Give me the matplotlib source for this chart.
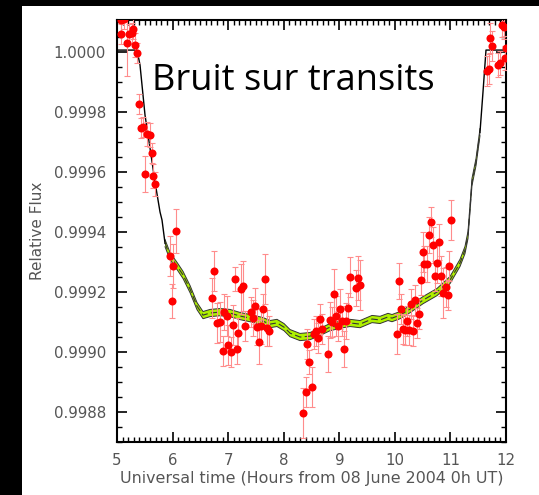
import numpy as np
import matplotlib
matplotlib.use('Agg')
import matplotlib.pyplot as plt
from matplotlib.patches import Rectangle
from matplotlib.ticker import MultipleLocator, FormatStrFormatter


# photometric points (hours UT, relative flux, 1-sigma error)
time = [5.07, 5.13, 5.07, 5.18, 5.22, 5.27, 5.29, 5.32, 5.36, 5.40,
        5.43, 5.47, 5.54, 5.59, 5.63, 5.50, 5.65, 5.68,
        6.06, 5.95, 6.01, 5.99, 6.75, 6.71, 6.80, 6.85, 6.93, 6.98,
        6.91, 7.00, 7.05, 7.16, 7.09, 7.18, 7.12, 7.23, 7.27, 7.30,
        7.41, 7.48, 7.45, 7.63, 7.66, 7.52, 7.56, 7.59, 7.70, 7.74,
        8.35, 8.40, 8.51, 8.46, 8.42, 8.55, 8.62, 8.58, 8.65, 8.69,
        8.80, 8.83, 8.87, 8.91, 8.94, 8.98, 9.01, 9.05, 9.09, 9.12,
        9.16, 9.19, 9.30, 9.34, 9.37,
        10.04, 10.07, 10.11, 10.15, 10.18, 10.22, 10.25, 10.33, 10.29, 10.36,
        10.40, 10.43, 10.47, 10.51, 10.52, 10.58, 10.65, 10.61, 10.69, 10.72,
        10.76, 10.79, 10.83, 10.87, 10.92, 10.96, 10.97, 11.01,
        11.66, 11.69, 11.71, 11.75, 11.86, 11.89, 11.93, 11.96, 11.99, 11.995]
flux = [1.000107, 1.00011, 1.00006, 1.00003, 1.00006, 1.000063, 1.000077, 1.000023, 0.999997, 0.999827,
        0.999747, 0.99975, 0.999727, 0.999723, 0.999663, 0.999593, 0.999587, 0.99956,
        0.999403, 0.99932, 0.999287, 0.99917, 0.99927, 0.99918, 0.999097, 0.9991, 0.999133, 0.99912,
        0.999003, 0.999023, 0.999, 0.99901, 0.99909, 0.999063, 0.999243, 0.99921, 0.99922, 0.999087,
        0.999133, 0.999153, 0.999113, 0.999143, 0.999243, 0.999083, 0.999033, 0.999087, 0.99908, 0.99907,
        0.998797, 0.998867, 0.998883, 0.998967, 0.999027, 0.99906, 0.999047, 0.99907, 0.99911, 0.999077,
        0.998993, 0.999107, 0.9991, 0.999193, 0.99912, 0.999087, 0.999143, 0.999103, 0.99901, 0.999103,
        0.999147, 0.99925, 0.999213, 0.999247, 0.999223,
        0.99906, 0.999237, 0.999143, 0.999077, 0.999073, 0.999103, 0.999073, 0.99907, 0.99916, 0.999173,
        0.999097, 0.999127, 0.99924, 0.999333, 0.999293, 0.999293, 0.999433, 0.99939, 0.999357, 0.999253,
        0.999297, 0.999367, 0.999253, 0.999197, 0.999217, 0.99919, 0.999287, 0.99944,
        0.999937, 0.999943, 1.000047, 1.00002, 0.999957, 0.999963, 1.00009, 1.000083, 0.99998, 1.000013]
flux_err = [0.00004, 0.000033, 0.000033, 0.00011, 0.000033, 0.000033, 0.000033, 0.00004, 0.000033, 0.000033,
            0.000033, 0.000033, 0.00004, 0.00004, 0.000033, 0.00006, 0.00004, 0.00004,
            0.000073, 0.000067, 0.000073, 0.000057, 0.000067, 0.000067, 0.000067, 0.000067, 0.00006, 0.000067,
            0.00005, 0.000067, 0.00005, 0.00005, 0.000067, 0.00005, 0.00004, 0.000083, 0.000083, 0.00005,
            0.00005, 0.00006, 0.00006, 0.00005, 0.000083, 0.00006, 0.000073, 0.00006, 0.00006, 0.00005,
            0.000083, 0.00005, 0.000067, 0.00004, 0.00005, 0.00005, 0.00005, 0.00005, 0.00005, 0.00005,
            0.00006, 0.00006, 0.00005, 0.000083, 0.000067, 0.00005, 0.000067, 0.00005, 0.00006, 0.00006,
            0.00005, 0.000067, 0.00006, 0.000073, 0.000083,
            0.000067, 0.00006, 0.00005, 0.00005, 0.00005, 0.00005, 0.00005, 0.00005, 0.00005, 0.00005,
            0.00005, 0.00005, 0.00005, 0.000067, 0.00006, 0.00006, 0.00005, 0.00006, 0.00006, 0.00005,
            0.000067, 0.00006, 0.000067, 0.000083, 0.000067, 0.00005, 0.00005, 0.000067,
            0.00005, 0.00005, 0.00005, 0.00005, 0.00004, 0.00004, 0.00004, 0.00004, 0.00004, 0.00004]

# fitted transit model and its uncertainty envelope
model_t = [5.00, 5.36, 5.414, 5.504, 5.594, 5.684, 5.774, 5.81, 5.864, 5.954,
           6.08, 6.188, 6.314, 6.44, 6.548, 6.674, 6.854, 7.033, 7.213, 7.393,
           7.627, 7.753, 7.879, 8.005, 8.113, 8.293, 8.473, 8.653, 8.833, 9.067,
           9.193, 9.373, 9.589, 9.733, 9.877, 9.949, 10.093, 10.273, 10.507, 10.759,
           10.993, 11.172, 11.262, 11.316, 11.388, 11.46, 11.532, 11.586, 11.64, 12.0]
model_f = [1.0000067, 1.0000067, 0.999957, 0.99979, 0.99968, 0.999567, 0.999467, 0.99944, 0.999363, 0.99932,
           0.999287, 0.999257, 0.99921, 0.999153, 0.999123, 0.99913, 0.999133, 0.99913, 0.99912, 0.999113,
           0.999103, 0.999093, 0.999097, 0.999083, 0.999063, 0.99905, 0.999053, 0.999067, 0.999083, 0.999093,
           0.999097, 0.999093, 0.99911, 0.999107, 0.999117, 0.999113, 0.999123, 0.999143, 0.999173, 0.9992,
           0.99924, 0.999297, 0.99934, 0.99939, 0.999567, 0.999633, 0.999733, 0.999867, 1.0000067, 1.0000067]
band_halfwidth = 0.000012

model_t = np.array(model_t)
model_f = np.array(model_f)

fig = plt.figure(figsize=(5.39, 4.95), dpi=100)
fig.patch.set_facecolor('white')
# dark slide border
fig.add_artist(Rectangle((0, 0), 22 / 539, 1, transform=fig.transFigure,
                         facecolor='black', edgecolor='none'))
fig.add_artist(Rectangle((0, 1 - 6 / 495), 1, 6 / 495, transform=fig.transFigure,
                         facecolor='black', edgecolor='none'))

ax = fig.add_axes([117 / 539, 53 / 495, 389 / 539, 422 / 495])

inband = (model_t >= 5.864) & (model_t <= 11.532)
bt = model_t[inband]
bf = model_f[inband]
ax.fill_between(bt, bf - band_halfwidth, bf + band_halfwidth,
                facecolor='#aef000', edgecolor='none', zorder=2)
ax.plot(bt, bf - band_halfwidth, color='#333333', lw=0.7, zorder=3)
ax.plot(bt, bf + band_halfwidth, color='#333333', lw=0.7, zorder=3)
ax.plot(bt, bf, color='#333333', lw=0.8, ls=(0, (6, 3)), zorder=3)
ax.plot(model_t[model_t <= 5.864], model_f[model_t <= 5.864], color='black', lw=1.0, zorder=3)
ax.plot(model_t[model_t >= 11.532], model_f[model_t >= 11.532], color='black', lw=1.0, zorder=3)

ax.errorbar(time, flux, yerr=flux_err, fmt='none', ecolor='#ff8c8c',
            elinewidth=0.8, capsize=2, capthick=0.8, zorder=4)
ax.plot(time, flux, 'o', color='#ff0000', ms=5.8, mec='none', zorder=5)

ax.set_xlim(5, 12)
ax.set_ylim(0.9987, 1.000107)

ax.xaxis.set_major_locator(MultipleLocator(1))
ax.xaxis.set_minor_locator(MultipleLocator(0.1))
ax.yaxis.set_major_locator(MultipleLocator(0.0002))
ax.yaxis.set_minor_locator(MultipleLocator(0.00005))
ax.yaxis.set_major_formatter(FormatStrFormatter('%.4f'))
ax.tick_params(which='both', direction='in', top=True, right=True,
               colors='black', labelcolor='#555555', labelsize=10.8)
ax.tick_params(which='major', length=7, width=1.2, pad=8)
ax.tick_params(which='minor', length=3.5, width=1.0)
for s in ax.spines.values():
    s.set_linewidth(1.5)

ax.set_xlabel('Universal time (Hours from 08 June 2004 0h UT)', color='#555555',
              fontsize=11.4, labelpad=2)
ax.set_ylabel('Relative Flux', color='#555555', fontsize=11, labelpad=6)

fig.text(152 / 539, 1 - 90 / 495, 'Bruit sur transits', family='Open Sans',
         fontsize=26, color='black', ha='left', va='baseline')

fig.savefig('out.png', dpi=100)
